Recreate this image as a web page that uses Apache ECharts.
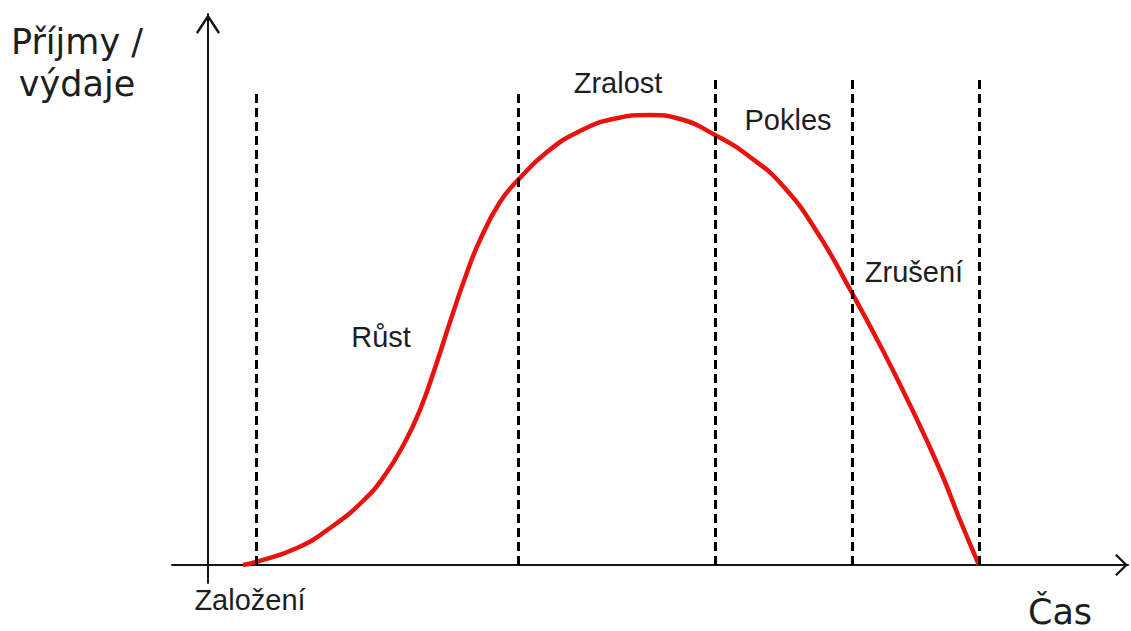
<!DOCTYPE html>
<html>
<head>
<meta charset="utf-8">
<script src="https://cdn.jsdelivr.net/npm/echarts@6/dist/echarts.min.js"></script>
<style>
html,body{margin:0;padding:0;background:#fff;}
#c{width:1131px;height:631px;}
</style>
</head>
<body>
<div id="c"></div>
<script>
// Curve (time, revenue/expenses)
const curveX = [3.5, 4.8, 8.9, 12.2, 15.5, 17.7, 19.7, 21.2, 22.7, 24.2, 25.7, 27.2, 29.2, 31.0, 33.9, 37.2, 40.5, 44.2, 47.2, 50.7, 54.2, 57.5, 60.9, 64.4, 67.2, 70.2, 73.2, 75.2, 77.1];
const curveY = [0.0, 0.3, 1.7, 3.7, 6.4, 9.0, 12.3, 15.5, 19.7, 24.3, 28.7, 32.5, 36.3, 38.5, 41.3, 43.4, 44.6, 45.0, 44.6, 43.0, 40.8, 37.9, 33.3, 27.2, 22.0, 16.0, 9.5, 4.5, 0.0];
// Phase boundaries (dashed lines) and their top heights
const phaseX = [4.8, 31.0, 50.7, 64.4, 77.1];
const phaseTop = [47.3, 47.3, 48.5, 49.0, 49.0];
const phaseLabels = ['Založení', 'Růst', 'Zralost', 'Pokles', 'Zrušení'];
const axisNames = ['Příjmy /', 'výdaje', 'Čas'];

const chart = echarts.init(document.getElementById('c'), null, {renderer: 'svg'});

const chevronX = 'path://M11,0 L22,11.3 L20.4,13 L11,3.2 L1.6,13 L0,11.3 Z M10,0 L12,0 L12,7 L10,7 Z';
const chevronY = 'path://M12,0 L24,18.3 L22.2,20 L12,4.4 L1.8,20 L0,18.3 Z M11,0 L13,0 L13,10 L11,10 Z';

const curveData = curveX.map((x, i) => [x, curveY[i]]);
const dashData = phaseX.map((x, i) => [{coord: [x, 0]}, {coord: [x, phaseTop[i]]}]);

const txtStyle = (text, x, y, size, family) => ({
  type: 'text', x: x, y: y, silent: true,
  style: {text: text, fill: '#1e1e1e', font: size + 'px "' + family + '"', textAlign: 'center', textVerticalAlign: 'middle'}
});

chart.setOption({
  animation: false,
  grid: {left: 172, right: 3, top: 14, bottom: 48, containLabel: false},
  xAxis: {
    type: 'value', min: -3.6, max: 92.0,
    axisLine: {show: true, onZero: true, symbol: ['none', chevronX], symbolSize: [22, 13], symbolOffset: [0, -6.5],
      lineStyle: {color: '#151515', width: 2}},
    axisTick: {show: false}, axisLabel: {show: false}, splitLine: {show: false}
  },
  yAxis: {
    type: 'value', min: -1.8, max: 55.1,
    axisLine: {show: true, onZero: true, symbol: ['none', chevronY], symbolSize: [24, 20], symbolOffset: [0, -10],
      lineStyle: {color: '#151515', width: 2}},
    axisTick: {show: false}, axisLabel: {show: false}, splitLine: {show: false}
  },
  series: [
    {
      type: 'line', data: [], silent: true,
      markLine: {
        silent: true, symbol: ['none', 'none'], label: {show: false},
        lineStyle: {color: '#000', width: 3, type: [9, 5]},
        emphasis: {disabled: true},
        data: dashData
      }
    },
    {
      type: 'line', data: curveData, smooth: 0.5, showSymbol: false, silent: true,
      lineStyle: {color: '#e8120e', width: 4.5}
    }
  ],
  graphic: [
    txtStyle(axisNames[0], 77, 42, 35, 'DejaVu Sans'),
    txtStyle(axisNames[1], 77, 84, 35, 'DejaVu Sans'),
    txtStyle(axisNames[2], 1060, 612, 35, 'DejaVu Sans'),
    txtStyle(phaseLabels[0], 250, 600, 29, 'Liberation Sans'),
    txtStyle(phaseLabels[1], 381, 337, 29, 'Liberation Sans'),
    txtStyle(phaseLabels[2], 618, 83, 29, 'Liberation Sans'),
    txtStyle(phaseLabels[3], 788, 120, 29, 'Liberation Sans'),
    txtStyle(phaseLabels[4], 914, 272, 29, 'Liberation Sans')
  ]
});
</script>
</body>
</html>
